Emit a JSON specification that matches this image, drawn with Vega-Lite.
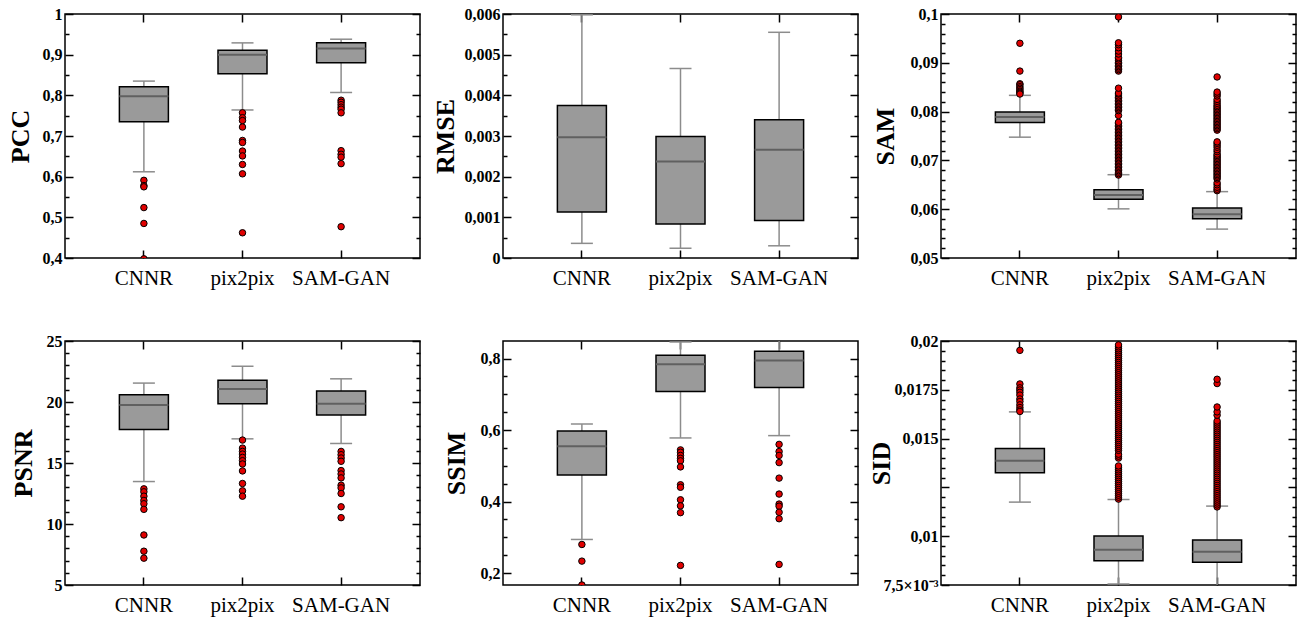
{
"$schema": "https://vega.github.io/schema/vega-lite/v6.json",
"background": "white",
"padding": {"left": 6, "top": 5, "right": 5, "bottom": 5},
"bounds": "flush",
"columns": 3,
"spacing": {"row": 83, "column": 83},
"datasets": {
"box": [
{"m":"PCC","k":"CNNR","lo":0.612,"q1":0.735,"md":0.798,"q3":0.821,"hi":0.835},
{"m":"PCC","k":"pix2pix","lo":0.764,"q1":0.853,"md":0.900,"q3":0.911,"hi":0.929},
{"m":"PCC","k":"SAM-GAN","lo":0.807,"q1":0.880,"md":0.915,"q3":0.929,"hi":0.938},
{"m":"RMSE","k":"CNNR","lo":0.00036,"q1":0.00113,"md":0.00297,"q3":0.00375,"hi":0.00598},
{"m":"RMSE","k":"pix2pix","lo":0.00024,"q1":0.000835,"md":0.00237,"q3":0.00299,"hi":0.00466},
{"m":"RMSE","k":"SAM-GAN","lo":0.0003,"q1":0.000925,"md":0.00266,"q3":0.0034,"hi":0.00555},
{"m":"SAM","k":"CNNR","lo":0.07476,"q1":0.07776,"md":0.07891,"q3":0.07993,"hi":0.08333},
{"m":"SAM","k":"pix2pix","lo":0.06007,"q1":0.06204,"md":0.06293,"q3":0.06401,"hi":0.06707},
{"m":"SAM","k":"SAM-GAN","lo":0.05592,"q1":0.05803,"md":0.05898,"q3":0.06027,"hi":0.0636},
{"m":"PSNR","k":"CNNR","lo":13.48,"q1":17.74,"md":19.76,"q3":20.60,"hi":21.55},
{"m":"PSNR","k":"pix2pix","lo":16.98,"q1":19.86,"md":21.06,"q3":21.79,"hi":22.93},
{"m":"PSNR","k":"SAM-GAN","lo":16.60,"q1":18.94,"md":19.86,"q3":20.90,"hi":21.90},
{"m":"SSIM","k":"CNNR","lo":0.294,"q1":0.474,"md":0.555,"q3":0.5975,"hi":0.617},
{"m":"SSIM","k":"pix2pix","lo":0.578,"q1":0.708,"md":0.784,"q3":0.809,"hi":0.8465},
{"m":"SSIM","k":"SAM-GAN","lo":0.5845,"q1":0.719,"md":0.7944,"q3":0.8204,"hi":0.853},
{"m":"SID","k":"CNNR","lo":0.011746,"q1":0.013247,"md":0.013861,"q3":0.014492,"hi":0.016368},
{"m":"SID","k":"pix2pix","lo":0.007551,"q1":0.008745,"md":0.009308,"q3":0.010007,"hi":0.01188},
{"m":"SID","k":"SAM-GAN","lo":0.0074,"q1":0.00866,"md":0.009205,"q3":0.009802,"hi":0.011542}
],
"out": [
{"m":"PCC","k":"CNNR","v":0.591},{"m":"PCC","k":"CNNR","v":0.578},{"m":"PCC","k":"CNNR","v":0.575},{"m":"PCC","k":"CNNR","v":0.524},{"m":"PCC","k":"CNNR","v":0.485},{"m":"PCC","k":"CNNR","v":0.398},
{"m":"PCC","k":"pix2pix","v":0.757},{"m":"PCC","k":"pix2pix","v":0.745},{"m":"PCC","k":"pix2pix","v":0.738},{"m":"PCC","k":"pix2pix","v":0.722},{"m":"PCC","k":"pix2pix","v":0.689},{"m":"PCC","k":"pix2pix","v":0.684},{"m":"PCC","k":"pix2pix","v":0.663},{"m":"PCC","k":"pix2pix","v":0.651},{"m":"PCC","k":"pix2pix","v":0.630},{"m":"PCC","k":"pix2pix","v":0.607},{"m":"PCC","k":"pix2pix","v":0.462},
{"m":"PCC","k":"SAM-GAN","v":0.788},{"m":"PCC","k":"SAM-GAN","v":0.783},{"m":"PCC","k":"SAM-GAN","v":0.777},{"m":"PCC","k":"SAM-GAN","v":0.771},{"m":"PCC","k":"SAM-GAN","v":0.766},{"m":"PCC","k":"SAM-GAN","v":0.757},{"m":"PCC","k":"SAM-GAN","v":0.664},{"m":"PCC","k":"SAM-GAN","v":0.655},{"m":"PCC","k":"SAM-GAN","v":0.648},{"m":"PCC","k":"SAM-GAN","v":0.632},{"m":"PCC","k":"SAM-GAN","v":0.477},
{"m":"PSNR","k":"CNNR","v":12.88},{"m":"PSNR","k":"CNNR","v":12.64},{"m":"PSNR","k":"CNNR","v":12.28},{"m":"PSNR","k":"CNNR","v":11.93},{"m":"PSNR","k":"CNNR","v":11.66},{"m":"PSNR","k":"CNNR","v":11.20},{"m":"PSNR","k":"CNNR","v":9.10},{"m":"PSNR","k":"CNNR","v":7.77},{"m":"PSNR","k":"CNNR","v":7.20},
{"m":"PSNR","k":"pix2pix","v":16.88},{"m":"PSNR","k":"pix2pix","v":16.22},{"m":"PSNR","k":"pix2pix","v":15.95},{"m":"PSNR","k":"pix2pix","v":15.73},{"m":"PSNR","k":"pix2pix","v":15.46},{"m":"PSNR","k":"pix2pix","v":15.19},{"m":"PSNR","k":"pix2pix","v":14.92},{"m":"PSNR","k":"pix2pix","v":14.35},{"m":"PSNR","k":"pix2pix","v":13.32},{"m":"PSNR","k":"pix2pix","v":12.72},{"m":"PSNR","k":"pix2pix","v":12.28},
{"m":"PSNR","k":"SAM-GAN","v":15.95},{"m":"PSNR","k":"SAM-GAN","v":15.68},{"m":"PSNR","k":"SAM-GAN","v":15.41},{"m":"PSNR","k":"SAM-GAN","v":15.14},{"m":"PSNR","k":"SAM-GAN","v":14.38},{"m":"PSNR","k":"SAM-GAN","v":14.10},{"m":"PSNR","k":"SAM-GAN","v":13.78},{"m":"PSNR","k":"SAM-GAN","v":13.18},{"m":"PSNR","k":"SAM-GAN","v":12.96},{"m":"PSNR","k":"SAM-GAN","v":12.50},{"m":"PSNR","k":"SAM-GAN","v":11.41},{"m":"PSNR","k":"SAM-GAN","v":10.52},
{"m":"SSIM","k":"CNNR","v":0.280},{"m":"SSIM","k":"CNNR","v":0.2334},{"m":"SSIM","k":"CNNR","v":0.1666},
{"m":"SSIM","k":"pix2pix","v":0.5446},{"m":"SSIM","k":"pix2pix","v":0.538},{"m":"SSIM","k":"pix2pix","v":0.529},{"m":"SSIM","k":"pix2pix","v":0.521},{"m":"SSIM","k":"pix2pix","v":0.514},{"m":"SSIM","k":"pix2pix","v":0.497},{"m":"SSIM","k":"pix2pix","v":0.447},{"m":"SSIM","k":"pix2pix","v":0.440},{"m":"SSIM","k":"pix2pix","v":0.405},{"m":"SSIM","k":"pix2pix","v":0.388},{"m":"SSIM","k":"pix2pix","v":0.369},{"m":"SSIM","k":"pix2pix","v":0.2214},
{"m":"SSIM","k":"SAM-GAN","v":0.560},{"m":"SSIM","k":"SAM-GAN","v":0.540},{"m":"SSIM","k":"SAM-GAN","v":0.529},{"m":"SSIM","k":"SAM-GAN","v":0.509},{"m":"SSIM","k":"SAM-GAN","v":0.4656},{"m":"SSIM","k":"SAM-GAN","v":0.421},{"m":"SSIM","k":"SAM-GAN","v":0.393},{"m":"SSIM","k":"SAM-GAN","v":0.387},{"m":"SSIM","k":"SAM-GAN","v":0.370},{"m":"SSIM","k":"SAM-GAN","v":0.352},{"m":"SSIM","k":"SAM-GAN","v":0.2242},
{"m":"SAM","k":"CNNR","v":0.0940},{"m":"SAM","k":"CNNR","v":0.0883},{"m":"SAM","k":"CNNR","v":0.0857},{"m":"SAM","k":"CNNR","v":0.0855},{"m":"SAM","k":"CNNR","v":0.0851},{"m":"SAM","k":"CNNR","v":0.0848},{"m":"SAM","k":"CNNR","v":0.0845},{"m":"SAM","k":"CNNR","v":0.0842},{"m":"SAM","k":"CNNR","v":0.0840},{"m":"SAM","k":"CNNR","v":0.0838},{"m":"SAM","k":"CNNR","v":0.0836},
{"m":"SAM","k":"pix2pix","v":0.0670},{"m":"SAM","k":"pix2pix","v":0.0673},{"m":"SAM","k":"pix2pix","v":0.0676},{"m":"SAM","k":"pix2pix","v":0.0679},{"m":"SAM","k":"pix2pix","v":0.0682},{"m":"SAM","k":"pix2pix","v":0.0685},{"m":"SAM","k":"pix2pix","v":0.0688},{"m":"SAM","k":"pix2pix","v":0.0691},{"m":"SAM","k":"pix2pix","v":0.0694},{"m":"SAM","k":"pix2pix","v":0.0697},{"m":"SAM","k":"pix2pix","v":0.0700},{"m":"SAM","k":"pix2pix","v":0.0703},{"m":"SAM","k":"pix2pix","v":0.0706},{"m":"SAM","k":"pix2pix","v":0.0709},{"m":"SAM","k":"pix2pix","v":0.0712},{"m":"SAM","k":"pix2pix","v":0.0715},{"m":"SAM","k":"pix2pix","v":0.0718},{"m":"SAM","k":"pix2pix","v":0.0721},{"m":"SAM","k":"pix2pix","v":0.0724},{"m":"SAM","k":"pix2pix","v":0.0727},{"m":"SAM","k":"pix2pix","v":0.0730},{"m":"SAM","k":"pix2pix","v":0.0733},{"m":"SAM","k":"pix2pix","v":0.0736},{"m":"SAM","k":"pix2pix","v":0.0739},{"m":"SAM","k":"pix2pix","v":0.0742},{"m":"SAM","k":"pix2pix","v":0.0745},{"m":"SAM","k":"pix2pix","v":0.0748},{"m":"SAM","k":"pix2pix","v":0.0751},{"m":"SAM","k":"pix2pix","v":0.0754},{"m":"SAM","k":"pix2pix","v":0.0757},{"m":"SAM","k":"pix2pix","v":0.0760},{"m":"SAM","k":"pix2pix","v":0.0763},{"m":"SAM","k":"pix2pix","v":0.0766},{"m":"SAM","k":"pix2pix","v":0.0769},{"m":"SAM","k":"pix2pix","v":0.0772},{"m":"SAM","k":"pix2pix","v":0.0775},{"m":"SAM","k":"pix2pix","v":0.0778},{"m":"SAM","k":"pix2pix","v":0.0792},{"m":"SAM","k":"pix2pix","v":0.0802},{"m":"SAM","k":"pix2pix","v":0.0805},{"m":"SAM","k":"pix2pix","v":0.0808},{"m":"SAM","k":"pix2pix","v":0.0811},{"m":"SAM","k":"pix2pix","v":0.0814},{"m":"SAM","k":"pix2pix","v":0.0817},{"m":"SAM","k":"pix2pix","v":0.0820},{"m":"SAM","k":"pix2pix","v":0.0823},{"m":"SAM","k":"pix2pix","v":0.0826},{"m":"SAM","k":"pix2pix","v":0.0829},{"m":"SAM","k":"pix2pix","v":0.0832},{"m":"SAM","k":"pix2pix","v":0.0836},{"m":"SAM","k":"pix2pix","v":0.0838},{"m":"SAM","k":"pix2pix","v":0.0848},{"m":"SAM","k":"pix2pix","v":0.0883},{"m":"SAM","k":"pix2pix","v":0.0886},{"m":"SAM","k":"pix2pix","v":0.0889},{"m":"SAM","k":"pix2pix","v":0.0892},{"m":"SAM","k":"pix2pix","v":0.0895},{"m":"SAM","k":"pix2pix","v":0.0898},{"m":"SAM","k":"pix2pix","v":0.0901},{"m":"SAM","k":"pix2pix","v":0.0904},{"m":"SAM","k":"pix2pix","v":0.0908},{"m":"SAM","k":"pix2pix","v":0.0911},{"m":"SAM","k":"pix2pix","v":0.0918},{"m":"SAM","k":"pix2pix","v":0.0924},{"m":"SAM","k":"pix2pix","v":0.0931},{"m":"SAM","k":"pix2pix","v":0.0937},{"m":"SAM","k":"pix2pix","v":0.0941},{"m":"SAM","k":"pix2pix","v":0.0994},
{"m":"SAM","k":"SAM-GAN","v":0.0638},{"m":"SAM","k":"SAM-GAN","v":0.0641},{"m":"SAM","k":"SAM-GAN","v":0.0645},{"m":"SAM","k":"SAM-GAN","v":0.0650},{"m":"SAM","k":"SAM-GAN","v":0.0654},{"m":"SAM","k":"SAM-GAN","v":0.0662},{"m":"SAM","k":"SAM-GAN","v":0.0665},{"m":"SAM","k":"SAM-GAN","v":0.0668},{"m":"SAM","k":"SAM-GAN","v":0.0671},{"m":"SAM","k":"SAM-GAN","v":0.0674},{"m":"SAM","k":"SAM-GAN","v":0.0677},{"m":"SAM","k":"SAM-GAN","v":0.0680},{"m":"SAM","k":"SAM-GAN","v":0.0683},{"m":"SAM","k":"SAM-GAN","v":0.0686},{"m":"SAM","k":"SAM-GAN","v":0.0689},{"m":"SAM","k":"SAM-GAN","v":0.0692},{"m":"SAM","k":"SAM-GAN","v":0.0695},{"m":"SAM","k":"SAM-GAN","v":0.0698},{"m":"SAM","k":"SAM-GAN","v":0.0701},{"m":"SAM","k":"SAM-GAN","v":0.0704},{"m":"SAM","k":"SAM-GAN","v":0.0707},{"m":"SAM","k":"SAM-GAN","v":0.0710},{"m":"SAM","k":"SAM-GAN","v":0.0713},{"m":"SAM","k":"SAM-GAN","v":0.0718},{"m":"SAM","k":"SAM-GAN","v":0.0722},{"m":"SAM","k":"SAM-GAN","v":0.0727},{"m":"SAM","k":"SAM-GAN","v":0.0731},{"m":"SAM","k":"SAM-GAN","v":0.0735},{"m":"SAM","k":"SAM-GAN","v":0.0738},{"m":"SAM","k":"SAM-GAN","v":0.0762},{"m":"SAM","k":"SAM-GAN","v":0.0765},{"m":"SAM","k":"SAM-GAN","v":0.0768},{"m":"SAM","k":"SAM-GAN","v":0.0771},{"m":"SAM","k":"SAM-GAN","v":0.0774},{"m":"SAM","k":"SAM-GAN","v":0.0777},{"m":"SAM","k":"SAM-GAN","v":0.0780},{"m":"SAM","k":"SAM-GAN","v":0.0783},{"m":"SAM","k":"SAM-GAN","v":0.0786},{"m":"SAM","k":"SAM-GAN","v":0.0789},{"m":"SAM","k":"SAM-GAN","v":0.0792},{"m":"SAM","k":"SAM-GAN","v":0.0795},{"m":"SAM","k":"SAM-GAN","v":0.0798},{"m":"SAM","k":"SAM-GAN","v":0.0801},{"m":"SAM","k":"SAM-GAN","v":0.0804},{"m":"SAM","k":"SAM-GAN","v":0.0807},{"m":"SAM","k":"SAM-GAN","v":0.0810},{"m":"SAM","k":"SAM-GAN","v":0.0813},{"m":"SAM","k":"SAM-GAN","v":0.0817},{"m":"SAM","k":"SAM-GAN","v":0.0821},{"m":"SAM","k":"SAM-GAN","v":0.0825},{"m":"SAM","k":"SAM-GAN","v":0.0832},{"m":"SAM","k":"SAM-GAN","v":0.0836},{"m":"SAM","k":"SAM-GAN","v":0.0840},{"m":"SAM","k":"SAM-GAN","v":0.0871},
{"m":"SID","k":"CNNR","v":0.01952},{"m":"SID","k":"CNNR","v":0.0178},{"m":"SID","k":"CNNR","v":0.0176},{"m":"SID","k":"CNNR","v":0.01749},{"m":"SID","k":"CNNR","v":0.01737},{"m":"SID","k":"CNNR","v":0.01723},{"m":"SID","k":"CNNR","v":0.01703},{"m":"SID","k":"CNNR","v":0.0169},{"m":"SID","k":"CNNR","v":0.01673},{"m":"SID","k":"CNNR","v":0.01659},{"m":"SID","k":"CNNR","v":0.01647},{"m":"SID","k":"CNNR","v":0.01639},
{"m":"SID","k":"pix2pix","v":0.0119},{"m":"SID","k":"pix2pix","v":0.0120},{"m":"SID","k":"pix2pix","v":0.0121},{"m":"SID","k":"pix2pix","v":0.0122},{"m":"SID","k":"pix2pix","v":0.0123},{"m":"SID","k":"pix2pix","v":0.0124},{"m":"SID","k":"pix2pix","v":0.0125},{"m":"SID","k":"pix2pix","v":0.0126},{"m":"SID","k":"pix2pix","v":0.0127},{"m":"SID","k":"pix2pix","v":0.0128},{"m":"SID","k":"pix2pix","v":0.0129},{"m":"SID","k":"pix2pix","v":0.0130},{"m":"SID","k":"pix2pix","v":0.0131},{"m":"SID","k":"pix2pix","v":0.0132},{"m":"SID","k":"pix2pix","v":0.0133},{"m":"SID","k":"pix2pix","v":0.0134},{"m":"SID","k":"pix2pix","v":0.0135},{"m":"SID","k":"pix2pix","v":0.0136},{"m":"SID","k":"pix2pix","v":0.0140},{"m":"SID","k":"pix2pix","v":0.0141},{"m":"SID","k":"pix2pix","v":0.0142},{"m":"SID","k":"pix2pix","v":0.0144},{"m":"SID","k":"pix2pix","v":0.0145},{"m":"SID","k":"pix2pix","v":0.0146},{"m":"SID","k":"pix2pix","v":0.0147},{"m":"SID","k":"pix2pix","v":0.0148},{"m":"SID","k":"pix2pix","v":0.0149},{"m":"SID","k":"pix2pix","v":0.0150},{"m":"SID","k":"pix2pix","v":0.0151},{"m":"SID","k":"pix2pix","v":0.0152},{"m":"SID","k":"pix2pix","v":0.0153},{"m":"SID","k":"pix2pix","v":0.0154},{"m":"SID","k":"pix2pix","v":0.0155},{"m":"SID","k":"pix2pix","v":0.0156},{"m":"SID","k":"pix2pix","v":0.0157},{"m":"SID","k":"pix2pix","v":0.0158},{"m":"SID","k":"pix2pix","v":0.0159},{"m":"SID","k":"pix2pix","v":0.0160},{"m":"SID","k":"pix2pix","v":0.0161},{"m":"SID","k":"pix2pix","v":0.0162},{"m":"SID","k":"pix2pix","v":0.0163},{"m":"SID","k":"pix2pix","v":0.0164},{"m":"SID","k":"pix2pix","v":0.0165},{"m":"SID","k":"pix2pix","v":0.0166},{"m":"SID","k":"pix2pix","v":0.0167},{"m":"SID","k":"pix2pix","v":0.0168},{"m":"SID","k":"pix2pix","v":0.0169},{"m":"SID","k":"pix2pix","v":0.0170},{"m":"SID","k":"pix2pix","v":0.0171},{"m":"SID","k":"pix2pix","v":0.0172},{"m":"SID","k":"pix2pix","v":0.0173},{"m":"SID","k":"pix2pix","v":0.0174},{"m":"SID","k":"pix2pix","v":0.0175},{"m":"SID","k":"pix2pix","v":0.0176},{"m":"SID","k":"pix2pix","v":0.0177},{"m":"SID","k":"pix2pix","v":0.0178},{"m":"SID","k":"pix2pix","v":0.0179},{"m":"SID","k":"pix2pix","v":0.0180},{"m":"SID","k":"pix2pix","v":0.0181},{"m":"SID","k":"pix2pix","v":0.0182},{"m":"SID","k":"pix2pix","v":0.0183},{"m":"SID","k":"pix2pix","v":0.0184},{"m":"SID","k":"pix2pix","v":0.0185},{"m":"SID","k":"pix2pix","v":0.0186},{"m":"SID","k":"pix2pix","v":0.0187},{"m":"SID","k":"pix2pix","v":0.0188},{"m":"SID","k":"pix2pix","v":0.0189},{"m":"SID","k":"pix2pix","v":0.0190},{"m":"SID","k":"pix2pix","v":0.0191},{"m":"SID","k":"pix2pix","v":0.0192},{"m":"SID","k":"pix2pix","v":0.0193},{"m":"SID","k":"pix2pix","v":0.0194},{"m":"SID","k":"pix2pix","v":0.0195},{"m":"SID","k":"pix2pix","v":0.0196},{"m":"SID","k":"pix2pix","v":0.0197},{"m":"SID","k":"pix2pix","v":0.0198},
{"m":"SID","k":"SAM-GAN","v":0.0115},{"m":"SID","k":"SAM-GAN","v":0.0116},{"m":"SID","k":"SAM-GAN","v":0.0117},{"m":"SID","k":"SAM-GAN","v":0.0118},{"m":"SID","k":"SAM-GAN","v":0.0119},{"m":"SID","k":"SAM-GAN","v":0.0120},{"m":"SID","k":"SAM-GAN","v":0.0121},{"m":"SID","k":"SAM-GAN","v":0.0122},{"m":"SID","k":"SAM-GAN","v":0.0123},{"m":"SID","k":"SAM-GAN","v":0.0124},{"m":"SID","k":"SAM-GAN","v":0.0125},{"m":"SID","k":"SAM-GAN","v":0.0126},{"m":"SID","k":"SAM-GAN","v":0.0127},{"m":"SID","k":"SAM-GAN","v":0.0128},{"m":"SID","k":"SAM-GAN","v":0.0129},{"m":"SID","k":"SAM-GAN","v":0.0130},{"m":"SID","k":"SAM-GAN","v":0.0131},{"m":"SID","k":"SAM-GAN","v":0.0132},{"m":"SID","k":"SAM-GAN","v":0.0133},{"m":"SID","k":"SAM-GAN","v":0.0134},{"m":"SID","k":"SAM-GAN","v":0.0135},{"m":"SID","k":"SAM-GAN","v":0.0136},{"m":"SID","k":"SAM-GAN","v":0.0137},{"m":"SID","k":"SAM-GAN","v":0.0138},{"m":"SID","k":"SAM-GAN","v":0.0139},{"m":"SID","k":"SAM-GAN","v":0.0140},{"m":"SID","k":"SAM-GAN","v":0.0141},{"m":"SID","k":"SAM-GAN","v":0.0142},{"m":"SID","k":"SAM-GAN","v":0.0143},{"m":"SID","k":"SAM-GAN","v":0.0144},{"m":"SID","k":"SAM-GAN","v":0.0145},{"m":"SID","k":"SAM-GAN","v":0.0146},{"m":"SID","k":"SAM-GAN","v":0.0147},{"m":"SID","k":"SAM-GAN","v":0.0148},{"m":"SID","k":"SAM-GAN","v":0.0149},{"m":"SID","k":"SAM-GAN","v":0.0150},{"m":"SID","k":"SAM-GAN","v":0.0151},{"m":"SID","k":"SAM-GAN","v":0.0152},{"m":"SID","k":"SAM-GAN","v":0.0153},{"m":"SID","k":"SAM-GAN","v":0.0154},{"m":"SID","k":"SAM-GAN","v":0.0155},{"m":"SID","k":"SAM-GAN","v":0.0156},{"m":"SID","k":"SAM-GAN","v":0.0157},{"m":"SID","k":"SAM-GAN","v":0.0158},{"m":"SID","k":"SAM-GAN","v":0.0159},{"m":"SID","k":"SAM-GAN","v":0.0162},{"m":"SID","k":"SAM-GAN","v":0.01637},{"m":"SID","k":"SAM-GAN","v":0.01662},{"m":"SID","k":"SAM-GAN","v":0.01782},{"m":"SID","k":"SAM-GAN","v":0.01804}
]
},
"concat": [
{"width":355,"height":244,"resolve":{"axis":{"x":"independent","y":"independent"}},
"layer":[
{"data":{"name":"box"},"transform":[{"filter":"datum.m=='PCC'"}],"mark":{"type":"rule","color":"#8c8c8c","strokeWidth":1.5,"clip":true},
"encoding":{"x":{"field":"k","type":"nominal","scale":{"type":"band","domain":["CNNR","pix2pix","SAM-GAN"],"paddingInner":0,"paddingOuter":0.3},"axis":{"orient":"bottom","title":null,"tickSize":-8,"labelPadding":17,"labelFont":"Liberation Serif","labelFontSize":21,"labelFontWeight":"normal"}},
"y":{"field":"lo","type":"quantitative","scale":{"domain":[0.4,1],"nice":false,"zero":false},"axis":{"orient":"left","title":"PCC","titleX":-45,"titleY":122,"titleAngle":270,"titleBaseline":"middle","titleAlign":"center","values":[0.4,0.45,0.5,0.55,0.6,0.65,0.7,0.75,0.8,0.85,0.9,0.95,1],"labelExpr":"indexof([0.4,0.5,0.6,0.7,0.8,0.9,1],datum.value)>=0 ? replace(toString(datum.value),'.',',') : ''","tickSize":{"condition":{"test":"indexof([0.4,0.5,0.6,0.7,0.8,0.9,1],datum.value)>=0","value":-8},"value":-4},"labelPadding":11,"labelOverlap":false,"labelFlush":false}},
"y2":{"field":"hi"}}},
{"data":{"name":"box"},"transform":[{"filter":"datum.m=='PCC'"}],"mark":{"type":"tick","color":"#8c8c8c","size":22,"thickness":1.5,"opacity":1,"clip":true},
"encoding":{"x":{"field":"k","type":"nominal","scale":{"type":"band","domain":["CNNR","pix2pix","SAM-GAN"],"paddingInner":0,"paddingOuter":0.3},"axis":null},"y":{"field":"lo","type":"quantitative","scale":{"domain":[0.4,1],"nice":false,"zero":false},"axis":null}}},
{"data":{"name":"box"},"transform":[{"filter":"datum.m=='PCC'"}],"mark":{"type":"tick","color":"#8c8c8c","size":22,"thickness":1.5,"opacity":1,"clip":true},
"encoding":{"x":{"field":"k","type":"nominal","scale":{"type":"band","domain":["CNNR","pix2pix","SAM-GAN"],"paddingInner":0,"paddingOuter":0.3},"axis":null},"y":{"field":"hi","type":"quantitative","scale":{"domain":[0.4,1],"nice":false,"zero":false},"axis":null}}},
{"data":{"name":"box"},"transform":[{"filter":"datum.m=='PCC'"}],"mark":{"type":"bar","size":49,"fill":"#9a9a9a","stroke":"#000","strokeWidth":1.5,"opacity":1,"clip":true},
"encoding":{"x":{"field":"k","type":"nominal","scale":{"type":"band","domain":["CNNR","pix2pix","SAM-GAN"],"paddingInner":0,"paddingOuter":0.3},"axis":{"orient":"top","title":null,"labels":false,"tickSize":-8}},
"y":{"field":"q1","type":"quantitative","scale":{"domain":[0.4,1],"nice":false,"zero":false},"axis":{"orient":"right","title":null,"labels":false,"values":[0.4,0.45,0.5,0.55,0.6,0.65,0.7,0.75,0.8,0.85,0.9,0.95,1],"tickSize":{"condition":{"test":"indexof([0.4,0.5,0.6,0.7,0.8,0.9,1],datum.value)>=0","value":-8},"value":-4}}},
"y2":{"field":"q3"}}},
{"data":{"name":"box"},"transform":[{"filter":"datum.m=='PCC'"}],"mark":{"type":"tick","color":"#606060","size":49,"thickness":2,"opacity":1,"clip":true},
"encoding":{"x":{"field":"k","type":"nominal","scale":{"type":"band","domain":["CNNR","pix2pix","SAM-GAN"],"paddingInner":0,"paddingOuter":0.3},"axis":null},"y":{"field":"md","type":"quantitative","scale":{"domain":[0.4,1],"nice":false,"zero":false},"axis":null}}},
{"data":{"name":"out"},"transform":[{"filter":"datum.m=='PCC'"}],"mark":{"type":"point","shape":"circle","filled":true,"fill":"#e00000","stroke":"#000","strokeWidth":1,"size":42,"opacity":1,"clip":true},
"encoding":{"x":{"field":"k","type":"nominal","scale":{"type":"band","domain":["CNNR","pix2pix","SAM-GAN"],"paddingInner":0,"paddingOuter":0.3},"axis":null},"y":{"field":"v","type":"quantitative","scale":{"domain":[0.4,1],"nice":false,"zero":false},"axis":null}}}
]},
{"width":355,"height":244,"resolve":{"axis":{"x":"independent","y":"independent"}},
"layer":[
{"data":{"name":"box"},"transform":[{"filter":"datum.m=='RMSE'"}],"mark":{"type":"rule","color":"#8c8c8c","strokeWidth":1.5,"clip":true},
"encoding":{"x":{"field":"k","type":"nominal","scale":{"type":"band","domain":["CNNR","pix2pix","SAM-GAN"],"paddingInner":0,"paddingOuter":0.3},"axis":{"orient":"bottom","title":null,"tickSize":-8,"labelPadding":17,"labelFont":"Liberation Serif","labelFontSize":21,"labelFontWeight":"normal"}},
"y":{"field":"lo","type":"quantitative","scale":{"domain":[0,0.006],"nice":false,"zero":false},"axis":{"orient":"left","title":"RMSE","titleX":-58,"titleY":122,"titleAngle":270,"titleBaseline":"middle","titleAlign":"center","values":[0,0.0005,0.001,0.0015,0.002,0.0025,0.003,0.0035,0.004,0.0045,0.005,0.0055,0.006],"labelExpr":"indexof([0,0.001,0.002,0.003,0.004,0.005,0.006],datum.value)>=0 ? replace(toString(datum.value),'.',',') : ''","tickSize":{"condition":{"test":"indexof([0,0.001,0.002,0.003,0.004,0.005,0.006],datum.value)>=0","value":-8},"value":-4},"labelPadding":11,"labelOverlap":false,"labelFlush":false}},
"y2":{"field":"hi"}}},
{"data":{"name":"box"},"transform":[{"filter":"datum.m=='RMSE'"}],"mark":{"type":"tick","color":"#8c8c8c","size":22,"thickness":1.5,"opacity":1,"clip":true},
"encoding":{"x":{"field":"k","type":"nominal","scale":{"type":"band","domain":["CNNR","pix2pix","SAM-GAN"],"paddingInner":0,"paddingOuter":0.3},"axis":null},"y":{"field":"lo","type":"quantitative","scale":{"domain":[0,0.006],"nice":false,"zero":false},"axis":null}}},
{"data":{"name":"box"},"transform":[{"filter":"datum.m=='RMSE'"}],"mark":{"type":"tick","color":"#8c8c8c","size":22,"thickness":1.5,"opacity":1,"clip":true},
"encoding":{"x":{"field":"k","type":"nominal","scale":{"type":"band","domain":["CNNR","pix2pix","SAM-GAN"],"paddingInner":0,"paddingOuter":0.3},"axis":null},"y":{"field":"hi","type":"quantitative","scale":{"domain":[0,0.006],"nice":false,"zero":false},"axis":null}}},
{"data":{"name":"box"},"transform":[{"filter":"datum.m=='RMSE'"}],"mark":{"type":"bar","size":49,"fill":"#9a9a9a","stroke":"#000","strokeWidth":1.5,"opacity":1,"clip":true},
"encoding":{"x":{"field":"k","type":"nominal","scale":{"type":"band","domain":["CNNR","pix2pix","SAM-GAN"],"paddingInner":0,"paddingOuter":0.3},"axis":{"orient":"top","title":null,"labels":false,"tickSize":-8}},
"y":{"field":"q1","type":"quantitative","scale":{"domain":[0,0.006],"nice":false,"zero":false},"axis":{"orient":"right","title":null,"labels":false,"values":[0,0.0005,0.001,0.0015,0.002,0.0025,0.003,0.0035,0.004,0.0045,0.005,0.0055,0.006],"tickSize":{"condition":{"test":"indexof([0,0.001,0.002,0.003,0.004,0.005,0.006],datum.value)>=0","value":-8},"value":-4}}},
"y2":{"field":"q3"}}},
{"data":{"name":"box"},"transform":[{"filter":"datum.m=='RMSE'"}],"mark":{"type":"tick","color":"#606060","size":49,"thickness":2,"opacity":1,"clip":true},
"encoding":{"x":{"field":"k","type":"nominal","scale":{"type":"band","domain":["CNNR","pix2pix","SAM-GAN"],"paddingInner":0,"paddingOuter":0.3},"axis":null},"y":{"field":"md","type":"quantitative","scale":{"domain":[0,0.006],"nice":false,"zero":false},"axis":null}}}
]},
{"width":355,"height":244,"resolve":{"axis":{"x":"independent","y":"independent"}},
"layer":[
{"data":{"name":"box"},"transform":[{"filter":"datum.m=='SAM'"}],"mark":{"type":"rule","color":"#8c8c8c","strokeWidth":1.5,"clip":true},
"encoding":{"x":{"field":"k","type":"nominal","scale":{"type":"band","domain":["CNNR","pix2pix","SAM-GAN"],"paddingInner":0,"paddingOuter":0.3},"axis":{"orient":"bottom","title":null,"tickSize":-8,"labelPadding":17,"labelFont":"Liberation Serif","labelFontSize":21,"labelFontWeight":"normal"}},
"y":{"field":"lo","type":"quantitative","scale":{"domain":[0.05,0.1],"nice":false,"zero":false},"axis":{"orient":"left","title":"SAM","titleX":-56,"titleY":122,"titleAngle":270,"titleBaseline":"middle","titleAlign":"center","values":[0.05,0.052,0.054,0.056,0.058,0.06,0.062,0.064,0.066,0.068,0.07,0.072,0.074,0.076,0.078,0.08,0.082,0.084,0.086,0.088,0.09,0.092,0.094,0.096,0.098,0.1],"labelExpr":"indexof([0.05,0.06,0.07,0.08,0.09,0.1],datum.value)>=0 ? replace(toString(datum.value),'.',',') : ''","tickSize":{"condition":{"test":"indexof([0.05,0.06,0.07,0.08,0.09,0.1],datum.value)>=0","value":-8},"value":-4},"labelPadding":11,"labelOverlap":false,"labelFlush":false}},
"y2":{"field":"hi"}}},
{"data":{"name":"box"},"transform":[{"filter":"datum.m=='SAM'"}],"mark":{"type":"tick","color":"#8c8c8c","size":22,"thickness":1.5,"opacity":1,"clip":true},
"encoding":{"x":{"field":"k","type":"nominal","scale":{"type":"band","domain":["CNNR","pix2pix","SAM-GAN"],"paddingInner":0,"paddingOuter":0.3},"axis":null},"y":{"field":"lo","type":"quantitative","scale":{"domain":[0.05,0.1],"nice":false,"zero":false},"axis":null}}},
{"data":{"name":"box"},"transform":[{"filter":"datum.m=='SAM'"}],"mark":{"type":"tick","color":"#8c8c8c","size":22,"thickness":1.5,"opacity":1,"clip":true},
"encoding":{"x":{"field":"k","type":"nominal","scale":{"type":"band","domain":["CNNR","pix2pix","SAM-GAN"],"paddingInner":0,"paddingOuter":0.3},"axis":null},"y":{"field":"hi","type":"quantitative","scale":{"domain":[0.05,0.1],"nice":false,"zero":false},"axis":null}}},
{"data":{"name":"box"},"transform":[{"filter":"datum.m=='SAM'"}],"mark":{"type":"bar","size":49,"fill":"#9a9a9a","stroke":"#000","strokeWidth":1.5,"opacity":1,"clip":true},
"encoding":{"x":{"field":"k","type":"nominal","scale":{"type":"band","domain":["CNNR","pix2pix","SAM-GAN"],"paddingInner":0,"paddingOuter":0.3},"axis":{"orient":"top","title":null,"labels":false,"tickSize":-8}},
"y":{"field":"q1","type":"quantitative","scale":{"domain":[0.05,0.1],"nice":false,"zero":false},"axis":{"orient":"right","title":null,"labels":false,"values":[0.05,0.052,0.054,0.056,0.058,0.06,0.062,0.064,0.066,0.068,0.07,0.072,0.074,0.076,0.078,0.08,0.082,0.084,0.086,0.088,0.09,0.092,0.094,0.096,0.098,0.1],"tickSize":{"condition":{"test":"indexof([0.05,0.06,0.07,0.08,0.09,0.1],datum.value)>=0","value":-8},"value":-4}}},
"y2":{"field":"q3"}}},
{"data":{"name":"box"},"transform":[{"filter":"datum.m=='SAM'"}],"mark":{"type":"tick","color":"#606060","size":49,"thickness":2,"opacity":1,"clip":true},
"encoding":{"x":{"field":"k","type":"nominal","scale":{"type":"band","domain":["CNNR","pix2pix","SAM-GAN"],"paddingInner":0,"paddingOuter":0.3},"axis":null},"y":{"field":"md","type":"quantitative","scale":{"domain":[0.05,0.1],"nice":false,"zero":false},"axis":null}}},
{"data":{"name":"out"},"transform":[{"filter":"datum.m=='SAM'"}],"mark":{"type":"point","shape":"circle","filled":true,"fill":"#e00000","stroke":"#000","strokeWidth":1,"size":42,"opacity":1,"clip":true},
"encoding":{"x":{"field":"k","type":"nominal","scale":{"type":"band","domain":["CNNR","pix2pix","SAM-GAN"],"paddingInner":0,"paddingOuter":0.3},"axis":null},"y":{"field":"v","type":"quantitative","scale":{"domain":[0.05,0.1],"nice":false,"zero":false},"axis":null}}}
]},
{"width":355,"height":244,"resolve":{"axis":{"x":"independent","y":"independent"}},
"layer":[
{"data":{"name":"box"},"transform":[{"filter":"datum.m=='PSNR'"}],"mark":{"type":"rule","color":"#8c8c8c","strokeWidth":1.5,"clip":true},
"encoding":{"x":{"field":"k","type":"nominal","scale":{"type":"band","domain":["CNNR","pix2pix","SAM-GAN"],"paddingInner":0,"paddingOuter":0.3},"axis":{"orient":"bottom","title":null,"tickSize":-8,"labelPadding":17,"labelFont":"Liberation Serif","labelFontSize":21,"labelFontWeight":"normal"}},
"y":{"field":"lo","type":"quantitative","scale":{"domain":[5,25],"nice":false,"zero":false},"axis":{"orient":"left","title":"PSNR","titleX":-42,"titleY":122,"titleAngle":270,"titleBaseline":"middle","titleAlign":"center","values":[5,6,7,8,9,10,11,12,13,14,15,16,17,18,19,20,21,22,23,24,25],"labelExpr":"indexof([5,10,15,20,25],datum.value)>=0 ? toString(datum.value) : ''","tickSize":{"condition":{"test":"indexof([5,10,15,20,25],datum.value)>=0","value":-8},"value":-4},"labelPadding":11,"labelOverlap":false,"labelFlush":false}},
"y2":{"field":"hi"}}},
{"data":{"name":"box"},"transform":[{"filter":"datum.m=='PSNR'"}],"mark":{"type":"tick","color":"#8c8c8c","size":22,"thickness":1.5,"opacity":1,"clip":true},
"encoding":{"x":{"field":"k","type":"nominal","scale":{"type":"band","domain":["CNNR","pix2pix","SAM-GAN"],"paddingInner":0,"paddingOuter":0.3},"axis":null},"y":{"field":"lo","type":"quantitative","scale":{"domain":[5,25],"nice":false,"zero":false},"axis":null}}},
{"data":{"name":"box"},"transform":[{"filter":"datum.m=='PSNR'"}],"mark":{"type":"tick","color":"#8c8c8c","size":22,"thickness":1.5,"opacity":1,"clip":true},
"encoding":{"x":{"field":"k","type":"nominal","scale":{"type":"band","domain":["CNNR","pix2pix","SAM-GAN"],"paddingInner":0,"paddingOuter":0.3},"axis":null},"y":{"field":"hi","type":"quantitative","scale":{"domain":[5,25],"nice":false,"zero":false},"axis":null}}},
{"data":{"name":"box"},"transform":[{"filter":"datum.m=='PSNR'"}],"mark":{"type":"bar","size":49,"fill":"#9a9a9a","stroke":"#000","strokeWidth":1.5,"opacity":1,"clip":true},
"encoding":{"x":{"field":"k","type":"nominal","scale":{"type":"band","domain":["CNNR","pix2pix","SAM-GAN"],"paddingInner":0,"paddingOuter":0.3},"axis":{"orient":"top","title":null,"labels":false,"tickSize":-8}},
"y":{"field":"q1","type":"quantitative","scale":{"domain":[5,25],"nice":false,"zero":false},"axis":{"orient":"right","title":null,"labels":false,"values":[5,6,7,8,9,10,11,12,13,14,15,16,17,18,19,20,21,22,23,24,25],"tickSize":{"condition":{"test":"indexof([5,10,15,20,25],datum.value)>=0","value":-8},"value":-4}}},
"y2":{"field":"q3"}}},
{"data":{"name":"box"},"transform":[{"filter":"datum.m=='PSNR'"}],"mark":{"type":"tick","color":"#606060","size":49,"thickness":2,"opacity":1,"clip":true},
"encoding":{"x":{"field":"k","type":"nominal","scale":{"type":"band","domain":["CNNR","pix2pix","SAM-GAN"],"paddingInner":0,"paddingOuter":0.3},"axis":null},"y":{"field":"md","type":"quantitative","scale":{"domain":[5,25],"nice":false,"zero":false},"axis":null}}},
{"data":{"name":"out"},"transform":[{"filter":"datum.m=='PSNR'"}],"mark":{"type":"point","shape":"circle","filled":true,"fill":"#e00000","stroke":"#000","strokeWidth":1,"size":42,"opacity":1,"clip":true},
"encoding":{"x":{"field":"k","type":"nominal","scale":{"type":"band","domain":["CNNR","pix2pix","SAM-GAN"],"paddingInner":0,"paddingOuter":0.3},"axis":null},"y":{"field":"v","type":"quantitative","scale":{"domain":[5,25],"nice":false,"zero":false},"axis":null}}}
]},
{"width":355,"height":244,"resolve":{"axis":{"x":"independent","y":"independent"}},
"layer":[
{"data":{"name":"box"},"transform":[{"filter":"datum.m=='SSIM'"}],"mark":{"type":"rule","color":"#8c8c8c","strokeWidth":1.5,"clip":true},
"encoding":{"x":{"field":"k","type":"nominal","scale":{"type":"band","domain":["CNNR","pix2pix","SAM-GAN"],"paddingInner":0,"paddingOuter":0.3},"axis":{"orient":"bottom","title":null,"tickSize":-8,"labelPadding":17,"labelFont":"Liberation Serif","labelFontSize":21,"labelFontWeight":"normal"}},
"y":{"field":"lo","type":"quantitative","scale":{"domain":[0.1666,0.8492],"nice":false,"zero":false},"axis":{"orient":"left","title":"SSIM","titleX":-47,"titleY":122,"titleAngle":270,"titleBaseline":"middle","titleAlign":"center","values":[0.2,0.25,0.3,0.35,0.4,0.45,0.5,0.55,0.6,0.65,0.7,0.75,0.8],"labelExpr":"indexof([0.2,0.4,0.6,0.8],datum.value)>=0 ? replace(toString(datum.value),'.',',') : ''","tickSize":{"condition":{"test":"indexof([0.2,0.4,0.6,0.8],datum.value)>=0","value":-8},"value":-4},"labelPadding":11,"labelOverlap":false,"labelFlush":false}},
"y2":{"field":"hi"}}},
{"data":{"name":"box"},"transform":[{"filter":"datum.m=='SSIM'"}],"mark":{"type":"tick","color":"#8c8c8c","size":22,"thickness":1.5,"opacity":1,"clip":true},
"encoding":{"x":{"field":"k","type":"nominal","scale":{"type":"band","domain":["CNNR","pix2pix","SAM-GAN"],"paddingInner":0,"paddingOuter":0.3},"axis":null},"y":{"field":"lo","type":"quantitative","scale":{"domain":[0.1666,0.8492],"nice":false,"zero":false},"axis":null}}},
{"data":{"name":"box"},"transform":[{"filter":"datum.m=='SSIM'"}],"mark":{"type":"tick","color":"#8c8c8c","size":22,"thickness":1.5,"opacity":1,"clip":true},
"encoding":{"x":{"field":"k","type":"nominal","scale":{"type":"band","domain":["CNNR","pix2pix","SAM-GAN"],"paddingInner":0,"paddingOuter":0.3},"axis":null},"y":{"field":"hi","type":"quantitative","scale":{"domain":[0.1666,0.8492],"nice":false,"zero":false},"axis":null}}},
{"data":{"name":"box"},"transform":[{"filter":"datum.m=='SSIM'"}],"mark":{"type":"bar","size":49,"fill":"#9a9a9a","stroke":"#000","strokeWidth":1.5,"opacity":1,"clip":true},
"encoding":{"x":{"field":"k","type":"nominal","scale":{"type":"band","domain":["CNNR","pix2pix","SAM-GAN"],"paddingInner":0,"paddingOuter":0.3},"axis":{"orient":"top","title":null,"labels":false,"tickSize":-8}},
"y":{"field":"q1","type":"quantitative","scale":{"domain":[0.1666,0.8492],"nice":false,"zero":false},"axis":{"orient":"right","title":null,"labels":false,"values":[0.2,0.25,0.3,0.35,0.4,0.45,0.5,0.55,0.6,0.65,0.7,0.75,0.8],"tickSize":{"condition":{"test":"indexof([0.2,0.4,0.6,0.8],datum.value)>=0","value":-8},"value":-4}}},
"y2":{"field":"q3"}}},
{"data":{"name":"box"},"transform":[{"filter":"datum.m=='SSIM'"}],"mark":{"type":"tick","color":"#606060","size":49,"thickness":2,"opacity":1,"clip":true},
"encoding":{"x":{"field":"k","type":"nominal","scale":{"type":"band","domain":["CNNR","pix2pix","SAM-GAN"],"paddingInner":0,"paddingOuter":0.3},"axis":null},"y":{"field":"md","type":"quantitative","scale":{"domain":[0.1666,0.8492],"nice":false,"zero":false},"axis":null}}},
{"data":{"name":"out"},"transform":[{"filter":"datum.m=='SSIM'"}],"mark":{"type":"point","shape":"circle","filled":true,"fill":"#e00000","stroke":"#000","strokeWidth":1,"size":42,"opacity":1,"clip":true},
"encoding":{"x":{"field":"k","type":"nominal","scale":{"type":"band","domain":["CNNR","pix2pix","SAM-GAN"],"paddingInner":0,"paddingOuter":0.3},"axis":null},"y":{"field":"v","type":"quantitative","scale":{"domain":[0.1666,0.8492],"nice":false,"zero":false},"axis":null}}}
]},
{"width":355,"height":244,"resolve":{"axis":{"x":"independent","y":"independent"}},
"layer":[
{"data":{"name":"box"},"transform":[{"filter":"datum.m=='SID'"}],"mark":{"type":"rule","color":"#8c8c8c","strokeWidth":1.5,"clip":true},
"encoding":{"x":{"field":"k","type":"nominal","scale":{"type":"band","domain":["CNNR","pix2pix","SAM-GAN"],"paddingInner":0,"paddingOuter":0.3},"axis":{"orient":"bottom","title":null,"tickSize":-8,"labelPadding":17,"labelFont":"Liberation Serif","labelFontSize":21,"labelFontWeight":"normal"}},
"y":{"field":"lo","type":"quantitative","scale":{"domain":[0.0075,0.02],"nice":false,"zero":false},"axis":{"orient":"left","title":"SID","titleX":-60,"titleY":122,"titleAngle":270,"titleBaseline":"middle","titleAlign":"center","values":[0.0075,0.008,0.0085,0.009,0.0095,0.01,0.0105,0.011,0.0115,0.012,0.0125,0.013,0.0135,0.014,0.0145,0.015,0.0155,0.016,0.0165,0.017,0.0175,0.018,0.0185,0.019,0.0195,0.02],"labelExpr":"datum.value==0.0075 ? '7,5×10⁻³' : (indexof([0.01,0.015,0.0175,0.02],datum.value)>=0 ? replace(toString(datum.value),'.',',') : '')","tickSize":{"condition":{"test":"indexof([0.0075,0.01,0.0125,0.015,0.0175,0.02],datum.value)>=0","value":-8},"value":-4},"labelPadding":11,"labelOverlap":false,"labelFlush":false}},
"y2":{"field":"hi"}}},
{"data":{"name":"box"},"transform":[{"filter":"datum.m=='SID'"}],"mark":{"type":"tick","color":"#8c8c8c","size":22,"thickness":1.5,"opacity":1,"clip":true},
"encoding":{"x":{"field":"k","type":"nominal","scale":{"type":"band","domain":["CNNR","pix2pix","SAM-GAN"],"paddingInner":0,"paddingOuter":0.3},"axis":null},"y":{"field":"lo","type":"quantitative","scale":{"domain":[0.0075,0.02],"nice":false,"zero":false},"axis":null}}},
{"data":{"name":"box"},"transform":[{"filter":"datum.m=='SID'"}],"mark":{"type":"tick","color":"#8c8c8c","size":22,"thickness":1.5,"opacity":1,"clip":true},
"encoding":{"x":{"field":"k","type":"nominal","scale":{"type":"band","domain":["CNNR","pix2pix","SAM-GAN"],"paddingInner":0,"paddingOuter":0.3},"axis":null},"y":{"field":"hi","type":"quantitative","scale":{"domain":[0.0075,0.02],"nice":false,"zero":false},"axis":null}}},
{"data":{"name":"box"},"transform":[{"filter":"datum.m=='SID'"}],"mark":{"type":"bar","size":49,"fill":"#9a9a9a","stroke":"#000","strokeWidth":1.5,"opacity":1,"clip":true},
"encoding":{"x":{"field":"k","type":"nominal","scale":{"type":"band","domain":["CNNR","pix2pix","SAM-GAN"],"paddingInner":0,"paddingOuter":0.3},"axis":{"orient":"top","title":null,"labels":false,"tickSize":-8}},
"y":{"field":"q1","type":"quantitative","scale":{"domain":[0.0075,0.02],"nice":false,"zero":false},"axis":{"orient":"right","title":null,"labels":false,"values":[0.0075,0.008,0.0085,0.009,0.0095,0.01,0.0105,0.011,0.0115,0.012,0.0125,0.013,0.0135,0.014,0.0145,0.015,0.0155,0.016,0.0165,0.017,0.0175,0.018,0.0185,0.019,0.0195,0.02],"tickSize":{"condition":{"test":"indexof([0.0075,0.01,0.0125,0.015,0.0175,0.02],datum.value)>=0","value":-8},"value":-4}}},
"y2":{"field":"q3"}}},
{"data":{"name":"box"},"transform":[{"filter":"datum.m=='SID'"}],"mark":{"type":"tick","color":"#606060","size":49,"thickness":2,"opacity":1,"clip":true},
"encoding":{"x":{"field":"k","type":"nominal","scale":{"type":"band","domain":["CNNR","pix2pix","SAM-GAN"],"paddingInner":0,"paddingOuter":0.3},"axis":null},"y":{"field":"md","type":"quantitative","scale":{"domain":[0.0075,0.02],"nice":false,"zero":false},"axis":null}}},
{"data":{"name":"out"},"transform":[{"filter":"datum.m=='SID'"}],"mark":{"type":"point","shape":"circle","filled":true,"fill":"#e00000","stroke":"#000","strokeWidth":1,"size":42,"opacity":1,"clip":true},
"encoding":{"x":{"field":"k","type":"nominal","scale":{"type":"band","domain":["CNNR","pix2pix","SAM-GAN"],"paddingInner":0,"paddingOuter":0.3},"axis":null},"y":{"field":"v","type":"quantitative","scale":{"domain":[0.0075,0.02],"nice":false,"zero":false},"axis":null}}}
]}
],
"config": {
"view": {"stroke": "#000", "strokeWidth": 1.5},
"axis": {"domain": false, "grid": false, "tickColor": "#000", "tickWidth": 1.5, "labelFont": "Liberation Serif", "titleFont": "Liberation Serif", "labelColor": "#000", "titleColor": "#000", "titleFontSize": 26, "titleFontWeight": "bold"},
"axisY": {"labelFontSize": 16, "labelFontWeight": "bold"},
"axisX": {"labelFontSize": 21, "labelFontWeight": "normal", "labelAngle": 0, "labelFont": "Liberation Serif"}
}
}
